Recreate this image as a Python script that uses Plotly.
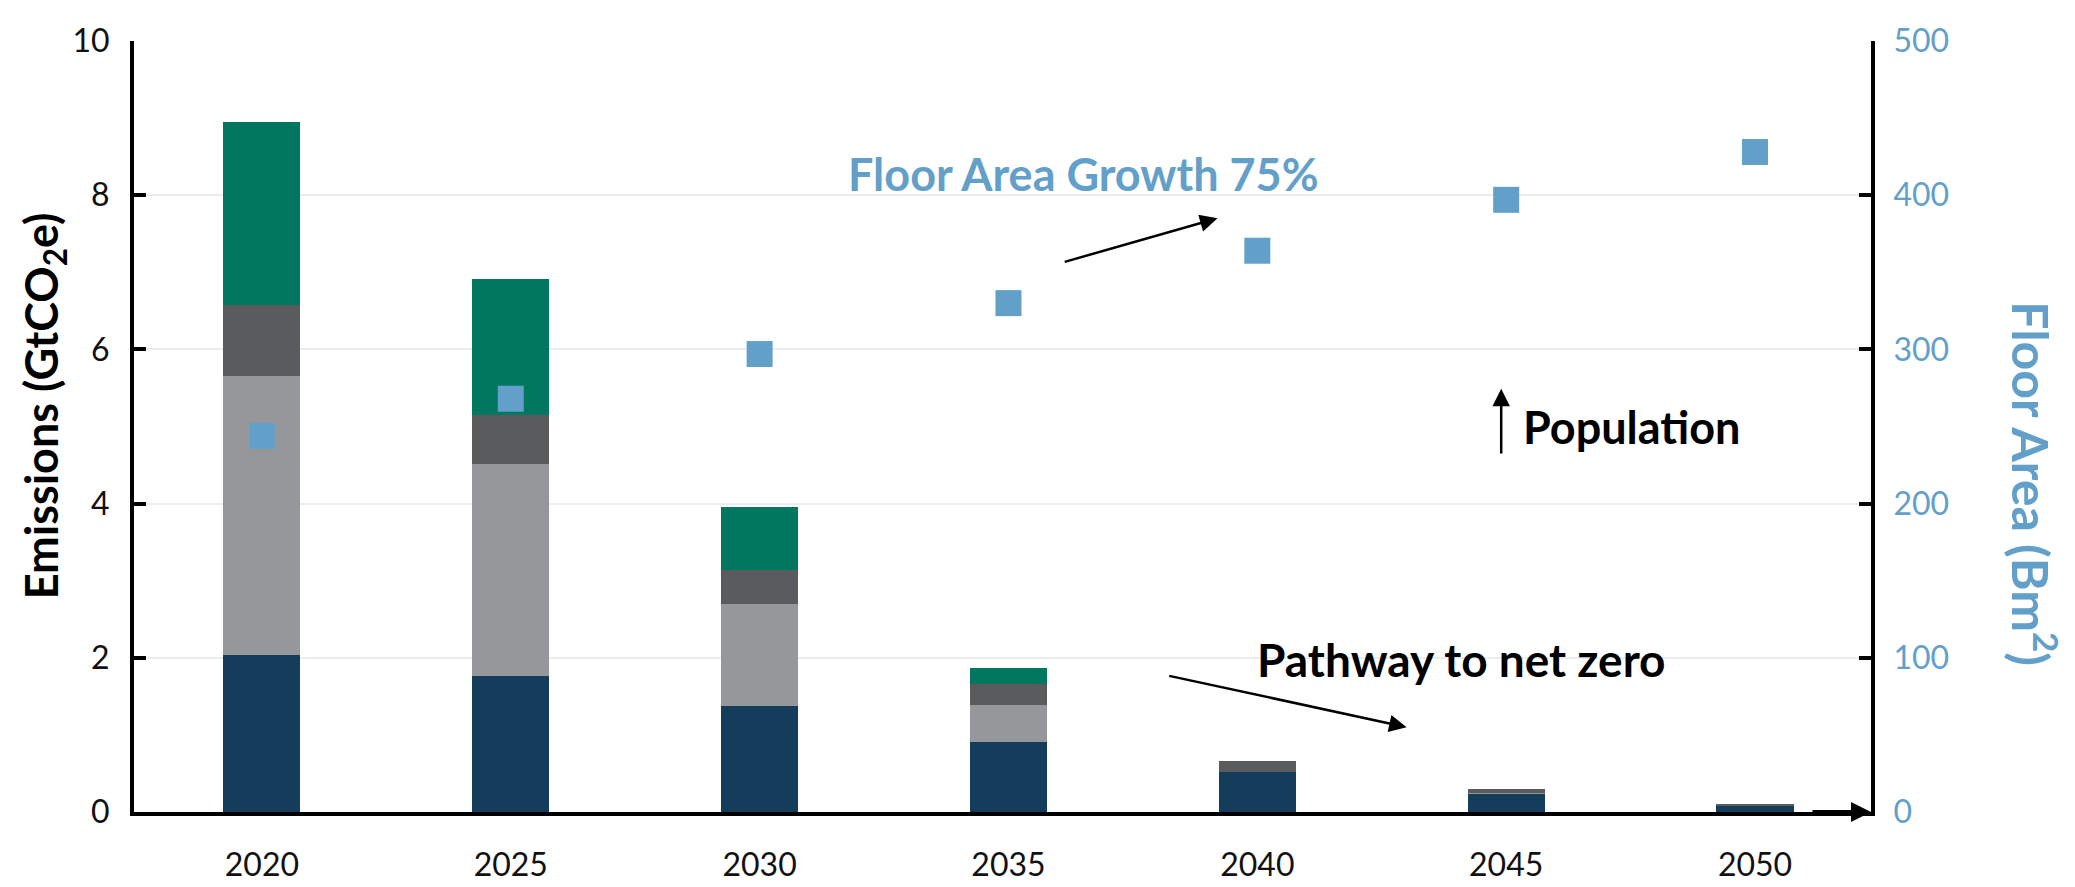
import plotly.graph_objects as go

years = [2020, 2025, 2030, 2035, 2040, 2045, 2050]
navy = [2.03, 1.77, 1.37, 0.91, 0.52, 0.24, 0.08]
light_gray = [3.63, 2.74, 1.33, 0.48, 0.0, 0.01, 0.0]
dark_gray = [0.91, 0.64, 0.44, 0.27, 0.14, 0.05, 0.02]
green = [2.38, 1.76, 0.81, 0.21, 0.0, 0.0, 0.0]
floor_area = [244, 268, 297, 330, 364, 397, 428]

left_ticks = [0, 2, 4, 6, 8, 10]
right_ticks = [0, 100, 200, 300, 400, 500]

C_NAVY = "#143D5C"
C_LG = "#96979A"
C_DG = "#5A5B5D"
C_GREEN = "#02775F"
C_BLUE = "#62A0CA"
FONT = "Lato, 'Open Sans', sans-serif"

fig = go.Figure()
for name, vals, col in [("Navy", navy, C_NAVY), ("Light", light_gray, C_LG),
                        ("Dark", dark_gray, C_DG), ("Green", green, C_GREEN)]:
    fig.add_trace(go.Bar(x=years, y=vals, name=name, marker=dict(color=col, line=dict(width=0)),
                         width=1.55, showlegend=False))

fig.add_trace(go.Scatter(x=years, y=floor_area, yaxis="y2", mode="markers",
                         marker=dict(symbol="square", size=26, color=C_BLUE),
                         showlegend=False))

fig.update_layout(
    barmode="stack",
    width=2075, height=887,
    margin=dict(l=126, r=212, t=25, b=73),
    plot_bgcolor="white", paper_bgcolor="white",
    font=dict(family=FONT, size=32, color="black"),
    xaxis=dict(range=[2017.43, 2052.33], tickvals=years, ticktext=[str(y) for y in years],
               showgrid=False, zeroline=False, showline=True, linecolor="black", linewidth=4,
               ticks="", ticklabelstandoff=22, tickfont=dict(size=32, color="#111")),
    yaxis=dict(range=[0, 10], tickvals=left_ticks, showgrid=True, gridcolor="#ececec", gridwidth=1.5,
               zeroline=False, showline=True, linecolor="black", linewidth=4,
               ticks="inside", ticklen=12, tickwidth=4, tickcolor="black",
               ticklabelstandoff=14, tickfont=dict(size=32, color="#111")),
    yaxis2=dict(range=[0, 500], tickvals=right_ticks, overlaying="y", side="right",
                showgrid=False, zeroline=False, showline=True, linecolor="black", linewidth=4,
                ticks="inside", ticklen=12, tickwidth=4, tickcolor="black",
                ticklabelstandoff=12, tickfont=dict(size=32, color=C_BLUE)),
)

# left axis title
fig.add_annotation(xref="paper", yref="paper", x=-0.052, y=0.527, text="<b>Emissions (GtCO<sub>2</sub>e)</b>",
                   textangle=-90, showarrow=False, font=dict(size=45, color="black"),
                   xanchor="center", yanchor="middle")

# right axis title (reads top-to-bottom)
fig.add_annotation(xref="paper", yref="paper", x=1.094, y=0.426, text="<b>Floor Area (Bm<sup>2</sup>)</b>",
                   textangle=90, showarrow=False, font=dict(size=50, color=C_BLUE),
                   xanchor="center", yanchor="middle")

# x-axis arrowhead
fig.add_annotation(xref="paper", yref="paper", x=1.0, y=0, ax=-60, ay=0, axref="pixel", ayref="pixel",
                   text="", showarrow=True, arrowhead=2, arrowsize=1.0, arrowwidth=4, arrowcolor="black")

# Floor Area Growth text & arrow
fig.add_annotation(xref="x", yref="y", x=2036.5, y=8.28, text="<b>Floor Area Growth 75%</b>",
                   showarrow=False, font=dict(size=45, color=C_BLUE))
fig.add_annotation(xref="x", yref="y", x=2039.2, y=7.70, ax=2036.1, ay=7.13, axref="x", ayref="y",
                   text="", showarrow=True, arrowhead=2, arrowsize=1.4, arrowwidth=2.5, arrowcolor="black")

# Population
fig.add_annotation(xref="x", yref="y", x=2045.3, y=5.0, text="<b>Population</b>", xanchor="left",
                   showarrow=False, font=dict(size=45, color="black"))
fig.add_annotation(xref="x", yref="y", x=2044.9, y=5.49, ax=2044.9, ay=4.63, axref="x", ayref="y",
                   text="", showarrow=True, arrowhead=2, arrowsize=1.4, arrowwidth=2.5, arrowcolor="black")

# Pathway to net zero
fig.add_annotation(xref="x", yref="y", x=2044.1, y=1.98, text="<b>Pathway to net zero</b>",
                   showarrow=False, font=dict(size=46, color="black"))
fig.add_annotation(xref="x", yref="y", x=2043.0, y=1.10, ax=2038.2, ay=1.77, axref="x", ayref="y",
                   text="", showarrow=True, arrowhead=2, arrowsize=1.4, arrowwidth=2.5, arrowcolor="black")

fig.write_html("out.html")
